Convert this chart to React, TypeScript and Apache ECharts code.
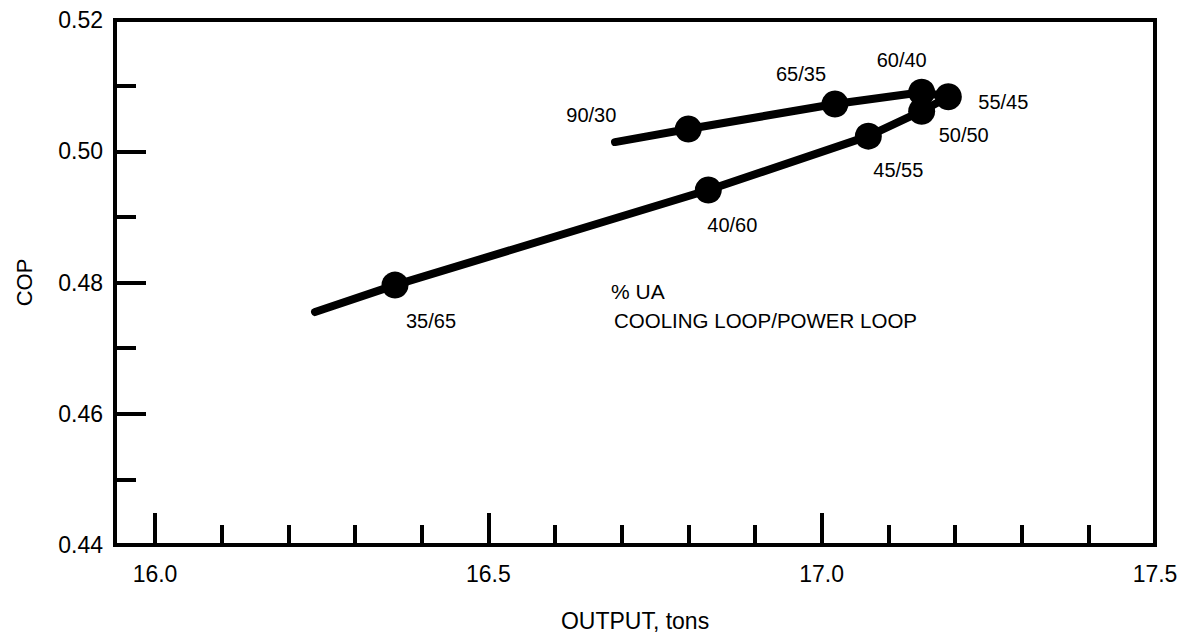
import React, { useEffect, useRef } from "react";
import * as echarts from "echarts";

// ---- data ----
const xLabelValues = [16.0, 16.5, 17.0, 17.5];
const xMajorTicks = [16.0, 16.5, 17.0];
const xMinorTicks = [16.1, 16.2, 16.3, 16.4, 16.6, 16.7, 16.8, 16.9, 17.1, 17.2, 17.3, 17.4];

// the loop curve, in drawing order (ends carry no marker)
const curveOutput = [16.24, 16.36, 16.83, 17.07, 17.15, 17.19, 17.15, 17.02, 16.8, 16.69];
const curveCop = [0.4755, 0.4796, 0.4941, 0.5023, 0.5061, 0.5083, 0.509, 0.5072, 0.5034, 0.5014];

// marked points
const pointLabels = ["35/65", "40/60", "45/55", "50/50", "55/45", "60/40", "65/35", "90/30"];
const pointOutput = [16.36, 16.83, 17.07, 17.15, 17.19, 17.15, 17.02, 16.8];
const pointCop = [0.4796, 0.4941, 0.5023, 0.5061, 0.5083, 0.509, 0.5072, 0.5034];

// ---- layout / style ----
const labelOffsets: Record<string, [number, number]> = {
  "35/65": [36, 36],
  "40/60": [24, 35],
  "45/55": [30, 34],
  "50/50": [42, 24],
  "55/45": [55, 5],
  "60/40": [-20, -32],
  "65/35": [-34, -30],
  "90/30": [-97, -14],
};

const FONT = "'Liberation Sans', Arial, Helvetica, sans-serif";

export default function App() {
  const ref = useRef<HTMLDivElement>(null);

  useEffect(() => {
    if (!ref.current) return;
    const chart = echarts.init(ref.current, undefined, { renderer: "svg" });

    const option: any = {
      animation: false,
      backgroundColor: "#ffffff",
      textStyle: { fontFamily: FONT, color: "#000" },
      grid: {
        left: 115,
        right: 25,
        top: 20,
        bottom: 88,
        show: true,
        borderColor: "#000",
        borderWidth: 4,
        containLabel: false,
        outerBoundsMode: "none",
      },
      xAxis: [
        {
          type: "value",
          min: 15.94,
          max: 17.5,
          position: "bottom",
          axisLine: { show: true, lineStyle: { color: "#000", width: 4 } },
          axisTick: {
            show: true,
            inside: true,
            length: 32,
            lineStyle: { color: "#000", width: 4 },
            customValues: xMajorTicks,
          },
          axisLabel: {
            customValues: xLabelValues,
            formatter: (v: number) => v.toFixed(1),
            fontSize: 23,
            color: "#000",
            fontFamily: FONT,
            margin: 17,
          },
          splitLine: { show: false },
          name: "OUTPUT, tons",
          nameLocation: "middle",
          nameGap: 64,
          nameTextStyle: { fontSize: 23, color: "#000", fontFamily: FONT },
        },
        {
          type: "value",
          min: 15.94,
          max: 17.5,
          position: "bottom",
          gridIndex: 0,
          axisLine: { show: false },
          axisTick: {
            show: true,
            inside: true,
            length: 20,
            lineStyle: { color: "#000", width: 4 },
            customValues: xMinorTicks,
          },
          axisLabel: { show: false },
          splitLine: { show: false },
        },
      ],
      yAxis: {
        type: "value",
        min: 0.44,
        max: 0.52,
        interval: 0.02,
        axisLine: { show: true, lineStyle: { color: "#000", width: 4 } },
        axisTick: {
          show: true,
          inside: true,
          length: 31,
          lineStyle: { color: "#000", width: 4 },
        },
        minorTick: {
          show: true,
          splitNumber: 2,
          length: 21,
          lineStyle: { color: "#000", width: 4 },
        },
        axisLabel: {
          formatter: (v: number) => v.toFixed(2),
          fontSize: 23,
          color: "#000",
          fontFamily: FONT,
          margin: 12,
        },
        splitLine: { show: false },
        minorSplitLine: { show: false },
        name: "COP",
        nameLocation: "middle",
        nameGap: 80,
        nameTextStyle: { fontSize: 22, color: "#000", fontFamily: FONT },
      },
      graphic: [
        {
          type: "text",
          left: 611,
          top: 281,
          style: { text: "% UA", fontSize: 21, fill: "#000", fontFamily: FONT },
        },
        {
          type: "text",
          left: 614,
          top: 310,
          style: {
            text: "COOLING LOOP/POWER LOOP",
            fontSize: 20.5,
            fill: "#000",
            fontFamily: FONT,
          },
        },
      ],
      series: [
        {
          type: "line",
          xAxisIndex: 0,
          yAxisIndex: 0,
          data: curveOutput.map((x, i) => [x, curveCop[i]]),
          showSymbol: false,
          symbol: "none",
          smooth: false,
          lineStyle: { color: "#000", width: 8, cap: "round", join: "round", opacity: 1 },
          silent: true,
          z: 2,
        },
        {
          type: "scatter",
          xAxisIndex: 0,
          yAxisIndex: 0,
          symbol: "circle",
          symbolSize: 27,
          itemStyle: { color: "#000", opacity: 1 },
          z: 3,
          data: pointLabels.map((name, i) => ({
            name,
            value: [pointOutput[i], pointCop[i]],
            label: { offset: labelOffsets[name] },
          })),
          label: {
            show: true,
            position: "inside",
            formatter: (p: any) => p.name,
            fontSize: 20,
            color: "#000",
            opacity: 1,
            fontFamily: FONT,
            align: "center",
            verticalAlign: "middle",
            textBorderWidth: 0,
          },
        },
      ],
    };

    chart.setOption(option);
    return () => chart.dispose();
  }, []);

  return (
    <div
      ref={ref}
      style={{
        position: "absolute",
        left: 0,
        top: 0,
        width: 1180,
        height: 633,
        background: "#fff",
      }}
    />
  );
}
